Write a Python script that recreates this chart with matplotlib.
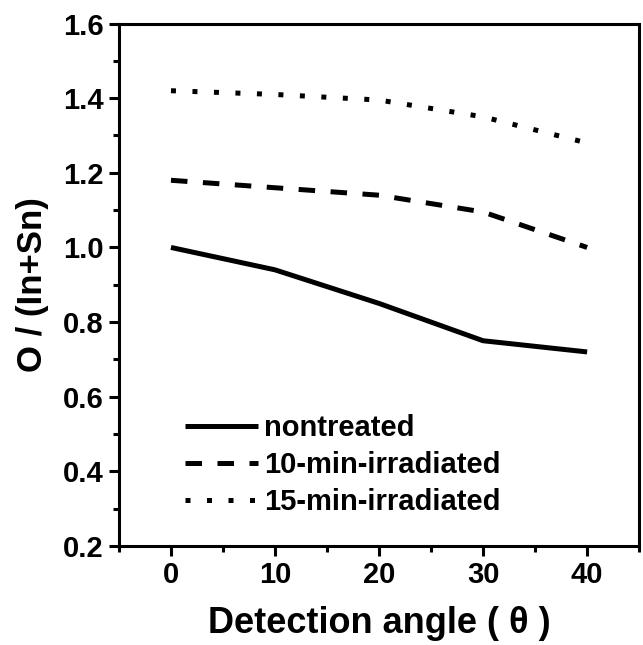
import matplotlib
matplotlib.use("Agg")
import matplotlib.pyplot as plt
from matplotlib.ticker import MultipleLocator

plt.rcParams["font.family"] = ["Liberation Sans", "DejaVu Sans"]
plt.rcParams["font.weight"] = "bold"

angles = [0, 10, 20, 30, 40]
nontreated = [1.00, 0.94, 0.85, 0.75, 0.72]
irr_10min = [1.18, 1.16, 1.14, 1.095, 1.00]
irr_15min = [1.42, 1.41, 1.395, 1.35, 1.28]
labels = ["nontreated", "10-min-irradiated", "15-min-irradiated"]

fig = plt.figure(figsize=(6.43, 6.45), dpi=100)
ax = fig.add_axes([0.185, 0.1535, 0.809, 0.81])

lw = 3.6
ax.plot(angles, nontreated, color="black", lw=lw, solid_capstyle="butt", label=labels[0])
ax.plot(angles, irr_10min, color="black", lw=lw, linestyle=(0, (3.3, 3.1)),
        dash_capstyle="butt", label=labels[1])
ax.plot(angles, irr_15min, color="black", lw=lw, linestyle=(0, (1.0, 3.3)),
        dash_capstyle="butt", label=labels[2])

ax.set_xlim(-5, 45)
ax.set_ylim(0.2, 1.6)
ax.xaxis.set_major_locator(MultipleLocator(10))
ax.xaxis.set_minor_locator(MultipleLocator(5))
ax.yaxis.set_major_locator(MultipleLocator(0.2))
ax.yaxis.set_minor_locator(MultipleLocator(0.1))
ax.yaxis.set_major_formatter(plt.FormatStrFormatter("%.1f"))

for s in ax.spines.values():
    s.set_linewidth(2.2)
ax.tick_params(which="major", direction="out", length=7, width=2.2, labelsize=21, pad=4)
ax.tick_params(which="minor", direction="out", length=4, width=2.2)
ax.tick_params(axis="x", which="both", top=False)
ax.tick_params(axis="y", which="both", right=False)

ax.set_xlabel("Detection angle ( \u03b8 )", fontsize=26, fontweight="bold", labelpad=12)
ax.set_ylabel("O / (In+Sn)", fontsize=25, fontweight="bold", labelpad=10)

leg = ax.legend(loc="upper left", bbox_to_anchor=(0.127, 0.252), frameon=False,
                fontsize=21, handlelength=2.5, handletextpad=0.2, labelspacing=0.3,
                borderaxespad=0, borderpad=0)
for t in leg.get_texts():
    t.set_fontweight("bold")

fig.savefig("out.png", dpi=100)
